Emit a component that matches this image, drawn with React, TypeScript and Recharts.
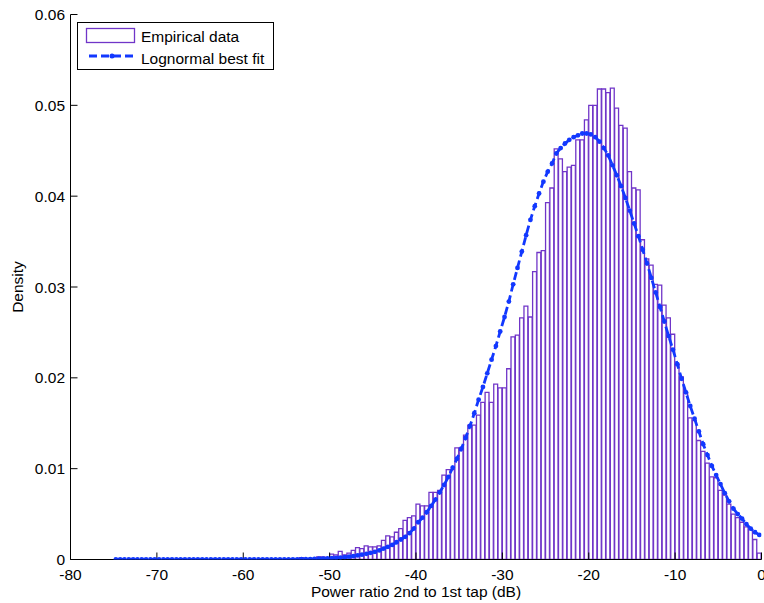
import { Bar, ComposedChart, Label, Legend, Line, XAxis, YAxis } from 'recharts';

// Histogram bins are 0.5 dB wide; the first bin starts at -75 dB.
const BIN_START = -75;
const BIN_WIDTH = 0.5;

// Empirical density per bin, ten bins (5 dB) per row, from -75 dB up to 0 dB.
const empiricalDensity = [
  0, 0, 0, 0, 0, 0, 0, 0, 0, 0,
  0, 0, 0, 0, 0, 0, 0, 0, 0, 0,
  0, 0, 0, 0, 0, 0, 0, 0, 0, 0,
  0, 0, 0, 0, 0, 0, 0, 0, 0, 0,
  0.0001, 0.0001, 0.0001, 0.0002, 0.0001, 0.0001, 0.0001, 0.0003, 0.0003, 0.0002,
  0.0006, 0.0005, 0.0009, 0.0005, 0.0007, 0.001, 0.0013, 0.0012, 0.0015, 0.0014,
  0.0014, 0.0015, 0.0021, 0.0026, 0.0025, 0.003, 0.0034, 0.0043, 0.0046, 0.0048,
  0.0061, 0.0059, 0.0059, 0.0074, 0.0074, 0.0076, 0.0093, 0.0099, 0.0099, 0.0123,
  0.0123, 0.0137, 0.0148, 0.0148, 0.0159, 0.0173, 0.0184, 0.0173, 0.0193, 0.0189,
  0.0189, 0.021, 0.0245, 0.0247, 0.0266, 0.0279, 0.0267, 0.0317, 0.0338, 0.034,
  0.0393, 0.0409, 0.0452, 0.0441, 0.0427, 0.0432, 0.0434, 0.0462, 0.0462, 0.0484,
  0.05, 0.05, 0.0518, 0.0518, 0.0514, 0.0519, 0.0497, 0.0478, 0.0475, 0.0427,
  0.0409, 0.0407, 0.0352, 0.0331, 0.0324, 0.0303, 0.0302, 0.028, 0.0266, 0.0248,
  0.0215, 0.0201, 0.0183, 0.0156, 0.0153, 0.0131, 0.0119, 0.0106, 0.0091, 0.009,
  0.0076, 0.0071, 0.0061, 0.005, 0.0046, 0.0041, 0.0036, 0.0033, 0.0022, 0.0007,
];

// Lognormal best fit evaluated at the bin centres.
const lognormalFit = [
  0, 0, 0, 0, 0, 0, 0, 0, 0, 0,
  0, 0, 0, 0, 0, 0, 0, 0, 0, 0,
  0, 0, 0, 0, 0, 0, 0, 0, 0, 0,
  0, 0, 0, 0, 0, 0, 0, 0, 0, 0,
  0.00001, 0.00002, 0.00002, 0.00003, 0.00004, 0.00005, 0.00006, 0.00008, 0.0001, 0.00012,
  0.00014, 0.00017, 0.00021, 0.00026, 0.00031, 0.00037, 0.00045, 0.00053, 0.00062, 0.00073,
  0.00085, 0.001, 0.0012, 0.0014, 0.0016, 0.0019, 0.0022, 0.0025, 0.0029, 0.0034,
  0.0041, 0.0046, 0.0052, 0.0059, 0.0066, 0.0074, 0.0082, 0.0091, 0.0101, 0.0111,
  0.0122, 0.0134, 0.0147, 0.0161, 0.0176, 0.019, 0.0205, 0.022, 0.0235, 0.0251,
  0.0267, 0.0284, 0.0303, 0.0321, 0.0339, 0.0357, 0.0374, 0.0389, 0.0403, 0.0416,
  0.0427, 0.0436, 0.0447, 0.0453, 0.0458, 0.0462, 0.0465, 0.0467, 0.0469, 0.0469,
  0.0468, 0.0465, 0.046, 0.0453, 0.0445, 0.0434, 0.0423, 0.0411, 0.0398, 0.0384,
  0.037, 0.0356, 0.0341, 0.0326, 0.031, 0.0294, 0.0278, 0.0262, 0.0246, 0.0231,
  0.0215, 0.0199, 0.0184, 0.0169, 0.0155, 0.0141, 0.0127, 0.0115, 0.0103, 0.0093,
  0.0083, 0.0073, 0.0064, 0.0056, 0.005, 0.0045, 0.0039, 0.0034, 0.003, 0.0027,
];

const xTicks = [-80, -70, -60, -50, -40, -30, -20, -10, 0];
const yTicks = [0, 0.01, 0.02, 0.03, 0.04, 0.05, 0.06];

const rows = empiricalDensity.map((density, i) => ({
  power: BIN_START + BIN_WIDTH * (i + 0.5),
  density,
  fit: lognormalFit[i],
}));

const WIDTH = 764;
const HEIGHT = 603;
const PLOT_LEFT = 70.5;
const PLOT_RIGHT = 761.5;
const PLOT_TOP = 14.5;
const PLOT_BOTTOM = 559.5;
const X_DOMAIN: [number, number] = [-80, 0];
const Y_DOMAIN: [number, number] = [0, 0.06];
const BAR_SIZE = ((PLOT_RIGHT - PLOT_LEFT) / (X_DOMAIN[1] - X_DOMAIN[0])) * BIN_WIDTH;

const BAR_EDGE = '#7035c8';
const FIT_BLUE = '#1238ff';
const FONT = '"Liberation Sans", Arial, sans-serif';
const tickStyle = { fontSize: 15.5, fill: '#000', fontFamily: FONT };

const formatY = (v: number) => (v === 0 ? '0' : v.toFixed(2));
const blank = () => '';

function LegendBox() {
  return (
    <svg width={198} height={49} style={{ display: 'block', fontFamily: FONT }}>
      <rect x={0.5} y={0.5} width={196} height={47} fill="#fff" stroke="#000" />
      <rect x={9.5} y={6.5} width={48} height={14} fill="#fff" stroke={BAR_EDGE} strokeWidth={1.3} />
      <text x={64} y={20} fontSize={15.5} fill="#000">
        Empirical data
      </text>
      <line x1={12} y1={34} x2={57} y2={34} stroke={FIT_BLUE} strokeWidth={2.8} strokeDasharray="8 4" />
      <circle cx={35} cy={34} r={2.5} fill={FIT_BLUE} />
      <text x={64} y={41.5} fontSize={15.5} fill="#000">
        Lognormal best fit
      </text>
    </svg>
  );
}

export default function App() {
  return (
    <div style={{ position: 'absolute', left: 0, top: 0, width: WIDTH, height: HEIGHT, background: '#fff' }}>
      <ComposedChart
        width={WIDTH}
        height={HEIGHT}
        data={rows}
        margin={{ top: PLOT_TOP, right: WIDTH - PLOT_RIGHT, bottom: 0, left: 0 }}
        barGap={0}
        barCategoryGap={0}
      >
        <XAxis
          dataKey="power"
          type="number"
          domain={X_DOMAIN}
          allowDataOverflow
          ticks={xTicks}
          interval={0}
          height={HEIGHT - PLOT_BOTTOM}
          stroke="#000"
          tickSize={-7}
          tickMargin={16}
          tick={tickStyle}
        >
          <Label
            value="Power ratio 2nd to 1st tap (dB)"
            position="insideBottom"
            offset={6}
            style={{ fontSize: 15.5, fill: '#000', fontFamily: FONT }}
          />
        </XAxis>
        <XAxis
          xAxisId="top"
          orientation="top"
          type="number"
          domain={X_DOMAIN}
          allowDataOverflow
          ticks={xTicks}
          interval={0}
          height={0}
          stroke="#000"
          tickSize={-7}
          tickFormatter={blank}
        />
        <YAxis
          type="number"
          domain={Y_DOMAIN}
          allowDataOverflow
          ticks={yTicks}
          interval={0}
          width={PLOT_LEFT}
          stroke="#000"
          tickSize={-7}
          tickMargin={12.5}
          tick={tickStyle}
          tickFormatter={formatY}
        >
          <Label
            value="Density"
            angle={-90}
            position="insideLeft"
            offset={17.5}
            style={{ fontSize: 15.5, fill: '#000', fontFamily: FONT, textAnchor: 'middle' }}
          />
        </YAxis>
        <YAxis
          yAxisId="right"
          orientation="right"
          type="number"
          domain={Y_DOMAIN}
          allowDataOverflow
          ticks={yTicks}
          interval={0}
          width={0}
          stroke="#000"
          tickSize={-7}
          tickFormatter={blank}
        />
        <Legend
          layout="horizontal"
          verticalAlign="middle"
          align="center"
          wrapperStyle={{ left: 77, top: 22, width: 198, height: 49 }}
          content={() => <LegendBox />}
        />
        <Bar
          dataKey="density"
          fill="#ffffff"
          stroke={BAR_EDGE}
          strokeWidth={1.3}
          barSize={BAR_SIZE}
          isAnimationActive={false}
        />
        <Line
          dataKey="fit"
          type="linear"
          stroke={FIT_BLUE}
          strokeWidth={2.8}
          strokeDasharray="8 4"
          dot={{ r: 2.4, fill: FIT_BLUE, stroke: 'none', strokeWidth: 0 }}
          activeDot={false}
          isAnimationActive={false}
        />
      </ComposedChart>
    </div>
  );
}
